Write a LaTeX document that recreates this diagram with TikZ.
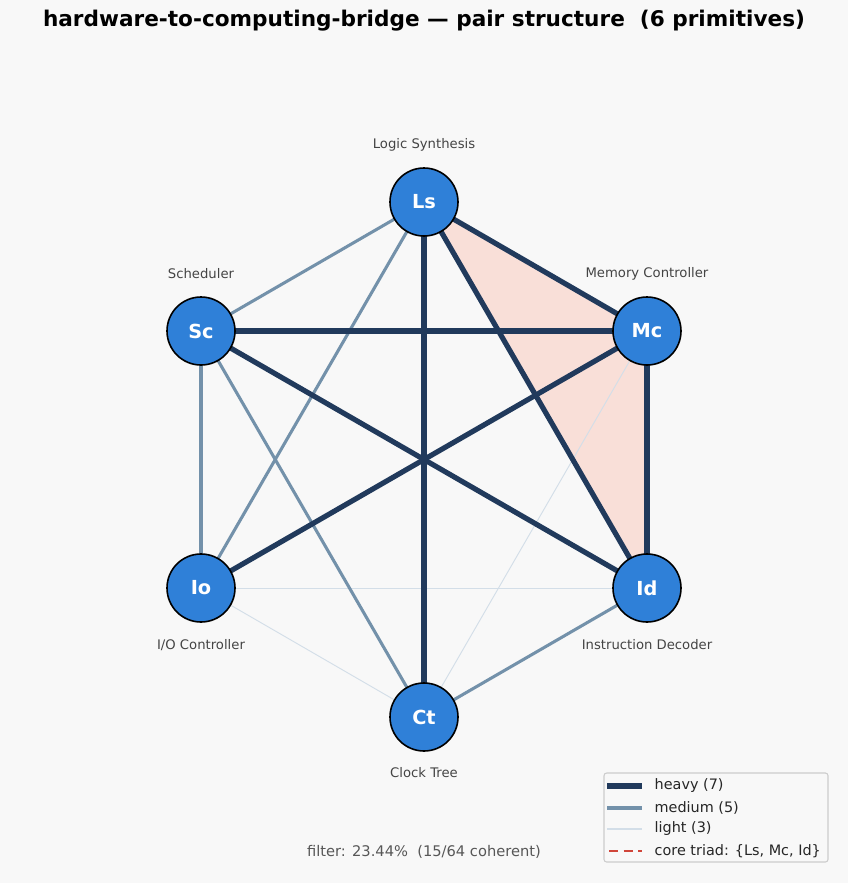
\documentclass[tikz,border=0pt]{standalone}
\usepackage{fontspec}
\setmainfont{DejaVu Sans}
\begin{document}
\begin{tikzpicture}[x=0.75pt,y=-0.75pt,
  heavy/.style={draw=heavyc,line width=3.9pt},
  medium/.style={draw=mediumc,line width=2.3pt},
  light/.style={draw=lightc,line width=0.7pt},
  prim/.style={circle,draw=black,line width=1.2pt,fill=nodec,minimum size=51pt,inner sep=0pt,text=white,font=\fontsize{14.5}{16}\selectfont\bfseries},
  lab/.style={text=labc,font=\fontsize{9.9}{11}\selectfont},
  legtxt/.style={anchor=west,font=\fontsize{10.8}{12}\selectfont,text=black!85}]
\definecolor{bgc}{HTML}{F8F8F8}
\definecolor{heavyc}{HTML}{213A5C}
\definecolor{mediumc}{HTML}{7391AA}
\definecolor{lightc}{HTML}{D3DEE8}
\definecolor{nodec}{HTML}{2F80D8}
\definecolor{triadc}{HTML}{F9DFD8}
\definecolor{labc}{HTML}{444444}
\definecolor{redc}{HTML}{D0453A}
\fill[bgc] (0,0) rectangle (848,883);
\useasboundingbox (0,0) rectangle (848,883);
\node[font=\fontsize{16.2}{18}\selectfont\bfseries] (title) at (424,21) {hardware-to-computing-bridge — pair structure\ \ (6 primitives)};
\coordinate (pLs) at (424,202);
\coordinate (pMc) at (647,331);
\coordinate (pId) at (647,588);
\coordinate (pCt) at (424,717);
\coordinate (pIo) at (201,588);
\coordinate (pSc) at (201,331);
\fill[triadc] (pLs) -- (pMc) -- (pId) -- cycle;
% light
\draw[light] (pIo) -- (pId);
\draw[light] (pIo) -- (pCt);
\draw[light] (pMc) -- (pCt);
% medium
\draw[medium] (pLs) -- (pSc);
\draw[medium] (pLs) -- (pIo);
\draw[medium] (pSc) -- (pIo);
\draw[medium] (pSc) -- (pCt);
\draw[medium] (pId) -- (pCt);
% heavy
\draw[heavy] (pLs) -- (pMc);
\draw[heavy] (pLs) -- (pId);
\draw[heavy] (pLs) -- (pCt);
\draw[heavy] (pSc) -- (pMc);
\draw[heavy] (pSc) -- (pId);
\draw[heavy] (pMc) -- (pIo);
\draw[heavy] (pMc) -- (pId);
% nodes
\node[prim] (Ls) at (pLs) {Ls};
\node[prim] (Mc) at (pMc) {Mc};
\node[prim] (Id) at (pId) {Id};
\node[prim] (Ct) at (pCt) {Ct};
\node[prim] (Io) at (pIo) {Io};
\node[prim] (Sc) at (pSc) {Sc};
% labels
\node[lab] (lLs) at (424,145) {Logic Synthesis};
\node[lab] (lMc) at (647,274) {Memory Controller};
\node[lab] (lSc) at (201,274) {Scheduler};
\node[lab] (lIo) at (201,645) {I/O Controller};
\node[lab] (lId) at (647,645) {Instruction Decoder};
\node[lab] (lCt) at (424,773) {Clock Tree};
\node[text=labc!90,font=\fontsize{11}{13}\selectfont] (filt) at (424,852) {filter: 23.44\%\ \ (15/64 coherent)};
% legend
\draw[rounded corners=2pt,draw=black!20,fill=bgc,line width=0.8pt] (604,773) rectangle (828,862);
\draw[heavyc,line width=3.9pt] (607,786) -- (642,786);
\draw[mediumc,line width=2.3pt] (607,808) -- (642,808);
\draw[lightc,line width=0.8pt] (607,829) -- (642,829);
\draw[redc,line width=1.6pt,dash pattern=on 7pt off 4pt] (609,851) -- (642,851);
\node[legtxt] (g1) at (650,786) {heavy (7)};
\node[legtxt] (g2) at (650,808) {medium (5)};
\node[legtxt] (g3) at (650,829) {light (3)};
\node[legtxt] (g4) at (650,851) {core triad: \{Ls, Mc, Id\}};
\end{tikzpicture}
\end{document}
